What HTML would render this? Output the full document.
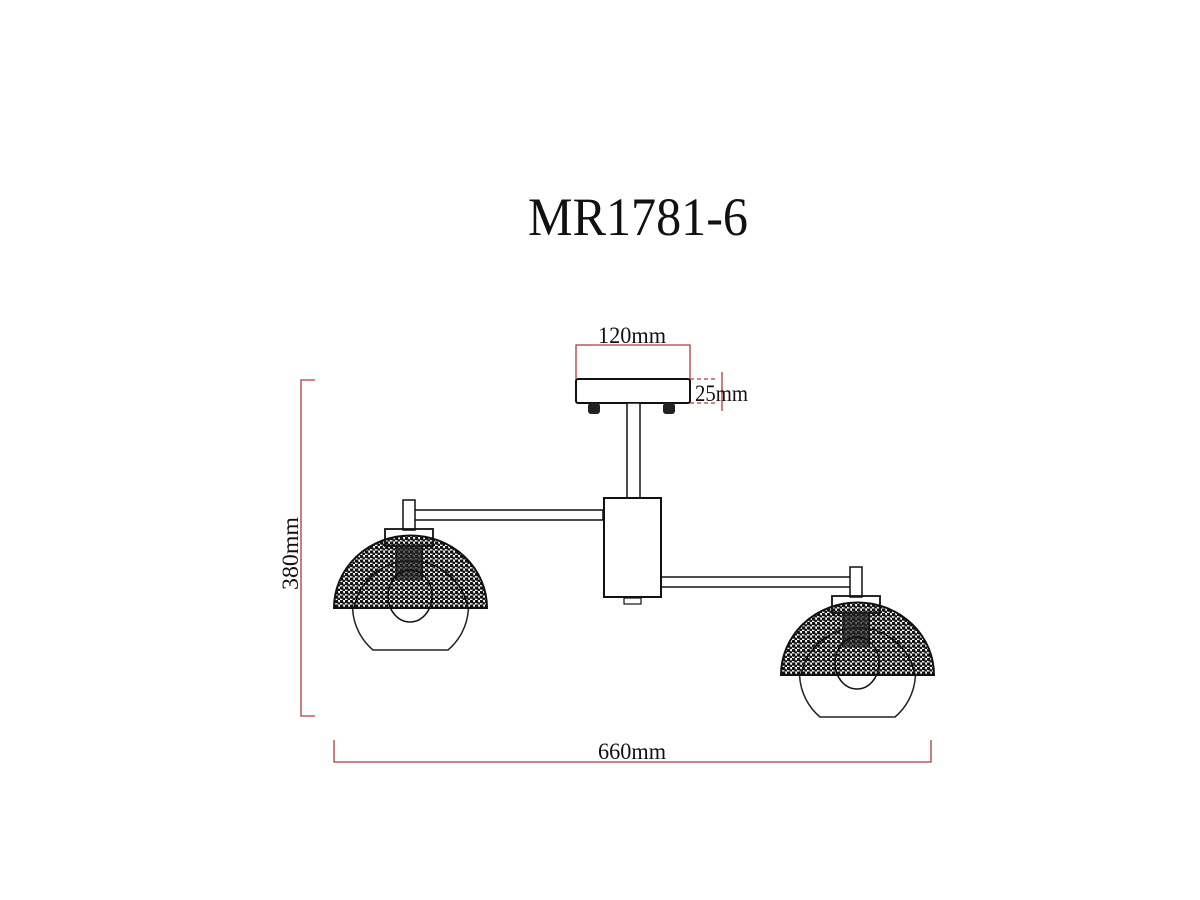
<!DOCTYPE html>
<html><head><meta charset="utf-8"><style>html,body{margin:0;padding:0;background:#fff}svg{display:block}</style></head>
<body>
<svg width="1200" height="900" viewBox="0 0 1200 900" xmlns="http://www.w3.org/2000/svg">
<defs>
<pattern id="mesh" width="5" height="4.5" patternUnits="userSpaceOnUse">
<rect width="5" height="4.5" fill="#fff"/>
<circle cx="1.5" cy="1.5" r="1.8" fill="#111"/>
<circle cx="4" cy="3.7" r="1.6" fill="#111"/>
</pattern>
<g id="lamp">
<rect x="-7" y="-100" width="12" height="30" fill="#fff" stroke="#111" stroke-width="1.5"/>
<path d="M -37 50 A 58 58 0 1 1 38 50 Z" fill="none" stroke="#222" stroke-width="1.5"/>
<path d="M -76 8 A 76 72 0 0 1 77 8 Z" fill="url(#mesh)" stroke="#111" stroke-width="2"/>
<path d="M -56 8 A 58 58 0 0 1 58 8" fill="none" stroke="#111" stroke-width="1.5"/>
<rect x="-25" y="-71" width="48" height="17" fill="none" stroke="#111" stroke-width="1.8"/>
<rect x="-14" y="-54" width="26" height="34" fill="#222" opacity="0.7"/>
<line x1="-14" y1="-54" x2="-14" y2="-20" stroke="#111" stroke-width="1.2"/>
<line x1="12" y1="-54" x2="12" y2="-20" stroke="#111" stroke-width="1.2"/>
<ellipse cx="0" cy="-4" rx="22" ry="26" fill="none" stroke="#111" stroke-width="1.5"/>
</g>
</defs>

<text x="528" y="235" font-family="Liberation Serif, serif" font-size="54" textLength="220" lengthAdjust="spacingAndGlyphs" fill="#111">MR1781-6</text>

<rect x="576" y="379" width="114" height="24" rx="2" fill="#fff" stroke="#111" stroke-width="2"/>
<rect x="588" y="403" width="12" height="11" rx="3" fill="#222"/>
<rect x="663" y="403" width="12" height="11" rx="3" fill="#222"/>
<rect x="627" y="403" width="13" height="95" fill="#fff" stroke="#111" stroke-width="1.5"/>
<rect x="414" y="510" width="189" height="10" fill="#fff" stroke="#111" stroke-width="1.5"/>
<rect x="661" y="577" width="191" height="10" fill="#fff" stroke="#111" stroke-width="1.5"/>
<rect x="604" y="498" width="57" height="99" fill="#fff" stroke="#111" stroke-width="2"/>
<rect x="624" y="598" width="17" height="6" fill="#fff" stroke="#111" stroke-width="1.2"/>

<use href="#lamp" transform="translate(410,600)"/>
<use href="#lamp" transform="translate(857,667)"/>

<g stroke="#b03a3a" stroke-width="1.3" fill="none">
<polyline points="315,380 301,380 301,716 315,716"/>
<polyline points="334,740 334,762 931,762 931,740"/>
<polyline points="576,379 576,345 690,345 690,379"/>
<line x1="722" y1="372" x2="722" y2="411"/>
<line x1="690" y1="379" x2="716" y2="379" stroke-dasharray="4,3"/>
<line x1="690" y1="403" x2="716" y2="403" stroke-dasharray="4,3"/>
</g>
<g font-family="Liberation Serif, serif" fill="#111" font-size="23">
<text x="598" y="343" textLength="68" lengthAdjust="spacingAndGlyphs">120mm</text>
<text x="695" y="401" textLength="53" lengthAdjust="spacingAndGlyphs">25mm</text>
<text x="598" y="759" textLength="68" lengthAdjust="spacingAndGlyphs">660mm</text>
<text transform="translate(298,590) rotate(-90)" textLength="73" lengthAdjust="spacingAndGlyphs">380mm</text>
</g>
</svg>
</body></html>
